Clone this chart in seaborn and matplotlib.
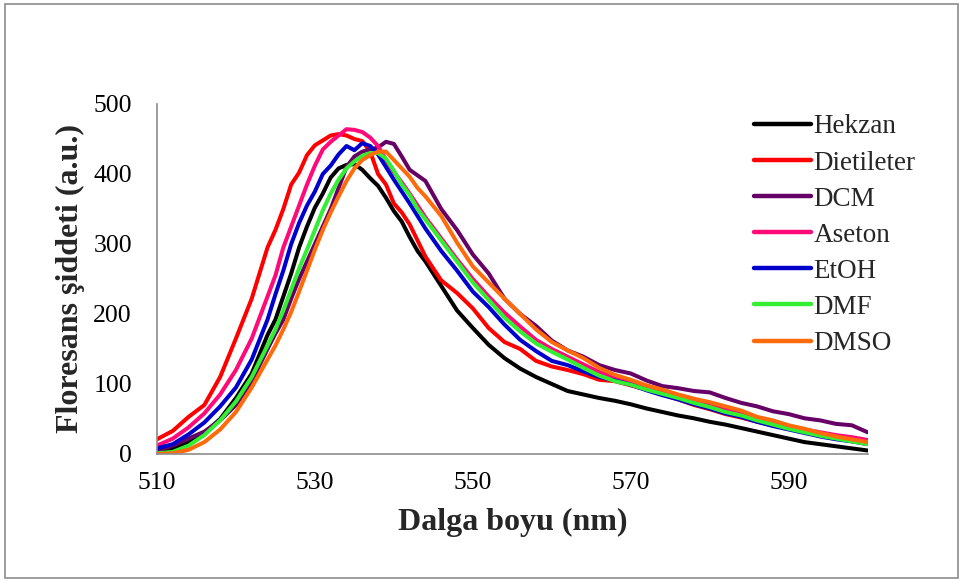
import numpy as np
import pandas as pd
import matplotlib
matplotlib.use("Agg")
import matplotlib.pyplot as plt
import seaborn as sns
from matplotlib.patches import Rectangle

# wavelength grid (nm): 2 nm steps on the tails, 1 nm around the maxima
wavelength = [510, 512, 514, 516, 518, 520, 522,
              524, 525, 526, 527, 528, 529, 530, 531, 532, 533, 534,
              535, 536, 537, 538, 539, 540, 541, 542, 543, 544,
              546, 548, 550, 552, 554, 556, 558, 560, 562, 564, 566, 568,
              570, 572, 574, 576, 578, 580, 582, 584, 586, 588, 590, 592,
              594, 596, 598, 600]

hekzan = [3, 8, 16, 30, 50, 80, 115,
          170, 192, 225, 258, 295, 325, 352, 372, 395, 408, 413,
          414, 406, 394, 383, 366, 347, 332, 310, 290, 275,
          240, 205, 180, 156, 137, 122, 110, 100, 90, 85, 80, 76,
          71, 65, 60, 55, 51, 46, 42, 37, 32, 27, 22, 17,
          14, 11, 8, 5]

dietileter = [21, 33, 53, 70, 110, 165, 222,
              295, 320, 350, 385, 402, 427, 441, 448, 455, 457, 455,
              450, 447, 432, 400, 385, 358, 345, 328, 305, 282,
              248, 230, 208, 180, 160, 150, 133, 125, 120, 114, 106, 104,
              98, 92, 85, 78, 70, 64, 57, 52, 46, 41, 36, 32,
              28, 25, 23, 19]

dcm = [5, 12, 22, 32, 48, 70, 104,
       150, 172, 192, 222, 250, 275, 300, 325, 350, 380, 410,
       425, 432, 435, 438, 446, 443, 425, 406, 398, 390,
       350, 320, 285, 258, 222, 200, 183, 162, 148, 139, 127, 120,
       115, 105, 97, 94, 90, 88, 80, 73, 68, 61, 57, 51,
       48, 43, 41, 31]

aseton = [12, 22, 38, 58, 85, 120, 165,
          225, 255, 295, 325, 355, 385, 412, 435, 446, 455, 464,
          463, 460, 452, 440, 420, 403, 388, 372, 355, 338,
          308, 278, 250, 225, 202, 182, 163, 150, 139, 128, 117, 110,
          104, 97, 91, 84, 78, 72, 65, 59, 52, 46, 40, 35,
          31, 27, 24, 20]

etoh = [8, 14, 28, 45, 68, 95, 135,
        192, 228, 262, 300, 330, 355, 375, 400, 412, 428, 440,
        434, 444, 440, 428, 410, 392, 375, 358, 340, 322,
        290, 262, 232, 210, 185, 163, 147, 133, 127, 118, 110, 105,
        99, 91, 84, 78, 71, 65, 58, 53, 46, 40, 35, 30,
        25, 21, 18, 14]

dmf = [1, 3, 12, 27, 48, 75, 110,
       155, 178, 205, 235, 265, 292, 320, 348, 372, 392, 408,
       418, 426, 430, 430, 422, 405, 385, 370, 350, 335,
       305, 275, 245, 220, 195, 175, 158, 146, 135, 123, 112, 104,
       99, 92, 86, 80, 73, 67, 60, 55, 48, 42, 36, 31,
       26, 22, 18, 14]

dmso = [0, 1, 6, 17, 35, 60, 95,
        135, 155, 178, 203, 232, 262, 292, 320, 345, 368, 390,
        408, 420, 427, 432, 432, 420, 408, 396, 380, 368,
        340, 302, 268, 245, 222, 200, 178, 160, 148, 137, 123, 113,
        106, 98, 92, 85, 79, 74, 68, 62, 53, 48, 41, 36,
        30, 25, 21, 17]

solvents = ["Hekzan", "Dietileter", "DCM", "Aseton", "EtOH", "DMF", "DMSO"]
colors = ["#000000", "#FF0000", "#660066", "#FF0A78", "#0000CC", "#33EE33", "#FF6A0A"]
series = [hekzan, dietileter, dcm, aseton, etoh, dmf, dmso]

frames = []
for name, vals in zip(solvents, series):
    frames.append(pd.DataFrame({"nm": wavelength, "intensity": vals, "solvent": name}))
df = pd.concat(frames, ignore_index=True)

sns.set_theme(style="white")
plt.rcParams["font.family"] = ["Liberation Serif", "DejaVu Serif"]

fig = plt.figure(figsize=(9.63, 5.81), dpi=100)
ax = fig.add_axes([0.163, 0.2186, 0.738, 0.6024])

sns.lineplot(data=df, x="nm", y="intensity", hue="solvent", hue_order=solvents,
             palette=colors, linewidth=2.9, ax=ax, estimator=None, sort=False)

ax.set_xlim(510, 600)
ax.set_ylim(0, 500)
ax.set_xticks([510, 530, 550, 570, 590])
ax.set_yticks([0, 100, 200, 300, 400, 500])
ax.tick_params(axis="both", length=0, labelsize=18.5, colors="black")
ax.tick_params(axis="y", pad=18)
ax.tick_params(axis="x", pad=13)

for side in ["top", "right"]:
    ax.spines[side].set_visible(False)
for side in ["left", "bottom"]:
    ax.spines[side].set_color("#8c8c8c")
    ax.spines[side].set_linewidth(1.2)

ax.set_xlabel("Dalga boyu (nm)", fontsize=23, fontweight="bold", labelpad=10)
ax.set_ylabel("Floresans şiddeti (a.u.)", fontsize=23, fontweight="bold", labelpad=6)

handles, labels = ax.get_legend_handles_labels()
for h in handles:
    h.set_linewidth(3.2)
ax.legend(handles, labels, loc="upper left", bbox_to_anchor=(0.783, 0.803),
          bbox_transform=fig.transFigure, frameon=False, fontsize=19.5,
          handlelength=2.1, handletextpad=0.1, labelspacing=0.41,
          borderpad=0, borderaxespad=0)

# grey frame around the whole chart
fig.patches.append(Rectangle((0.0052, 0.0052), 0.9896, 0.988, transform=fig.transFigure,
                             fill=False, edgecolor="#8c8c8c", linewidth=1.2))

fig.savefig("out.png", dpi=100, facecolor="white")
